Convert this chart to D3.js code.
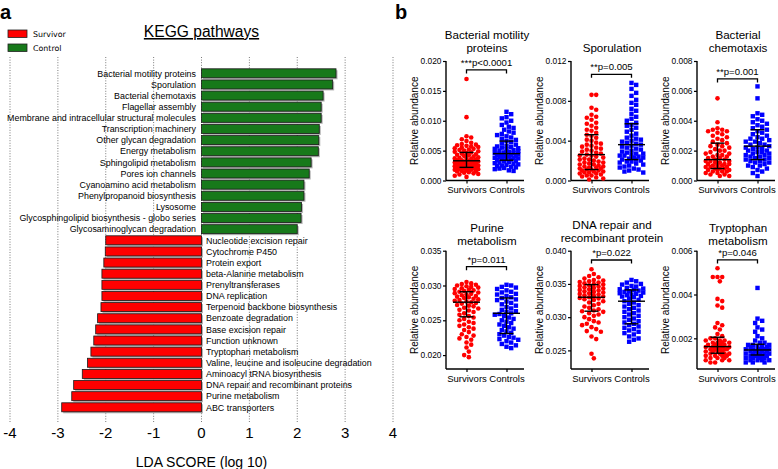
<!DOCTYPE html>
<html><head><meta charset="utf-8">
<script src="https://cdn.jsdelivr.net/npm/d3@7"></script>
<style>
body{margin:0;background:#fff;}
svg{display:block;}
text{font-family:"Liberation Sans",Arial,Helvetica,sans-serif;fill:#000;}
</style>
</head><body>
<svg id="c" width="778" height="469"></svg>
<script>
// ---------------- Panel a data ----------------
const keggNames = [
 "Bacterial motility proteins","Sporulation","Bacterial chemotaxis","Flagellar assembly",
 "Membrane and intracellular structural molecules","Transcription machinery","Other glycan degradation",
 "Energy metabolism","Sphingolipid metabolism","Pores ion channels","Cyanoamino acid metabolism",
 "Phenylpropanoid biosynthesis","Lysosome","Glycosphingolipid biosynthesis - globo series",
 "Glycosaminoglycan degradation",
 "Nucleotide excision repair","Cytochrome P450","Protein export","beta-Alanine metabolism",
 "Prenyltransferases","DNA replication","Terpenoid backbone biosynthesis","Benzoate degradation",
 "Base excision repair","Function unknown","Tryptophan metabolism",
 "Valine, leucine and isoleucine degradation","Aminoacyl tRNA biosynthesis",
 "DNA repair and recombinant proteins","Purine metabolism","ABC transporters"];
const keggScores = [2.81,2.74,2.54,2.50,2.50,2.46,2.45,2.44,2.29,2.25,2.14,2.14,2.09,2.08,2.00,
 -2.00,-2.01,-2.04,-2.08,-2.08,-2.08,-2.10,-2.17,-2.21,-2.25,-2.31,-2.38,-2.49,-2.67,-2.71,-2.92];
const ldaTicks = [-4,-3,-2,-1,0,1,2,3,4];
const legendLabels = ["Survivor","Control"];

// ---------------- Panel b data ----------------
const groupLabels = ["Survivors","Controls"];
const panelTitles = [["Bacterial motility","proteins"],["Sporulation"],["Bacterial","chemotaxis"],
 ["Purine","metabolism"],["DNA repair and","recombinant protein"],["Tryptophan","metabolism"]];
const pLabels = ["***p<0.0001","**p=0.005","**p=0.001","*p=0.011","*p=0.022","*p=0.046"];
const yDomains = [[0,0.020],[0,0.012],[0,0.008],[0.018,0.035],[0.0222,0.040],[0.0006,0.006]];
const yTickVals = [[0,0.005,0.010,0.015,0.020],[0,0.004,0.008,0.012],[0,0.002,0.004,0.006,0.008],
 [0.020,0.025,0.030,0.035],[0.025,0.030,0.035,0.040],[0.002,0.004,0.006]];
const bracketLevels = [0.0185,0.01066,0.0068,0.0327,0.0386,0.00558];
// [center, low, high] for survivors / controls
const survivorSummary = [[0.0033,0.0022,0.0047],[0.0026,0.0011,0.0046],[0.0014,0.0008,0.0025],
 [0.0276,0.0255,0.0291],[0.0330,0.0309,0.0349],[0.00162,0.00132,0.00205]];
const controlSummary = [[0.0045,0.0034,0.0066],[0.0036,0.0021,0.0057],[0.0023,0.0014,0.0034],
 [0.0260,0.0231,0.0282],[0.0324,0.0290,0.0341],[0.00147,0.00124,0.00173]];

const motilitySurvivors = [0.0170,0.0106,0.0074,0.0072,0.0069,0.0066,0.0063,0.0061,0.0060,0.0059,0.0058,0.0057,0.0056,0.0055,0.0054,0.0053,0.0052,0.0051,0.0050,0.0049,0.0048,0.0047,0.0046,0.0045,0.0044,0.0043,0.0042,0.0041,0.0040,0.0039,0.0038,0.0037,0.0036,0.0036,0.0035,0.0034,0.0034,0.0033,0.0032,0.0032,0.0031,0.0030,0.0030,0.0029,0.0028,0.0028,0.0027,0.0027,0.0026,0.0026,0.0025,0.0025,0.0024,0.0024,0.0023,0.0023,0.0022,0.0022,0.0021,0.0021,0.0020,0.0020,0.0019,0.0019,0.0018,0.0018,0.0017,0.0016,0.0016,0.0015,0.0014,0.0013,0.0012,0.0011,0.0010,0.0008,0.0006];
const motilityControls = [0.0115,0.0111,0.0106,0.0104,0.0100,0.0097,0.0093,0.0090,0.0088,0.0085,0.0082,0.0080,0.0078,0.0076,0.0074,0.0072,0.0070,0.0068,0.0066,0.0064,0.0062,0.0060,0.0058,0.0057,0.0056,0.0055,0.0054,0.0053,0.0052,0.0051,0.0050,0.0049,0.0048,0.0047,0.0046,0.0046,0.0045,0.0044,0.0044,0.0043,0.0042,0.0042,0.0041,0.0040,0.0040,0.0039,0.0038,0.0038,0.0037,0.0036,0.0036,0.0035,0.0034,0.0033,0.0032,0.0031,0.0030,0.0029,0.0028,0.0027,0.0026,0.0025,0.0024,0.0023,0.0022,0.0021,0.0020,0.0019,0.0017,0.0016];
const sporulationSurvivors = [0.0086,0.0086,0.0073,0.0071,0.0066,0.0064,0.0063,0.0061,0.0058,0.0057,0.0055,0.0053,0.0051,0.0050,0.0048,0.0046,0.0045,0.0043,0.0041,0.0040,0.0038,0.0037,0.0036,0.0035,0.0034,0.0033,0.0032,0.0031,0.0030,0.0029,0.0028,0.0027,0.0026,0.0025,0.0025,0.0024,0.0023,0.0022,0.0021,0.0021,0.0020,0.0019,0.0018,0.0018,0.0017,0.0016,0.0016,0.0015,0.0014,0.0014,0.0013,0.0013,0.0012,0.0012,0.0011,0.0011,0.0010,0.0010,0.0009,0.0009,0.0008,0.0008,0.0007,0.0007,0.0006,0.0005,0.0005,0.0004,0.0003,0.0002,0.0001];
const sporulationControls = [0.0098,0.0096,0.0092,0.0088,0.0085,0.0081,0.0078,0.0076,0.0072,0.0070,0.0067,0.0064,0.0062,0.0060,0.0058,0.0056,0.0055,0.0053,0.0051,0.0049,0.0047,0.0045,0.0043,0.0042,0.0041,0.0040,0.0039,0.0038,0.0037,0.0036,0.0035,0.0034,0.0033,0.0032,0.0031,0.0030,0.0029,0.0028,0.0027,0.0027,0.0026,0.0025,0.0025,0.0024,0.0023,0.0023,0.0022,0.0021,0.0021,0.0020,0.0019,0.0019,0.0018,0.0017,0.0016,0.0015,0.0014,0.0013,0.0012,0.0011,0.0010,0.0009,0.0008];
const chemotaxisSurvivors = [0.0055,0.0039,0.0035,0.0034,0.0034,0.0033,0.0033,0.0032,0.0031,0.0030,0.0029,0.0028,0.0027,0.0026,0.0025,0.0024,0.0023,0.0023,0.0022,0.0021,0.0020,0.0020,0.0019,0.0018,0.0018,0.0017,0.0017,0.0016,0.0016,0.0015,0.0015,0.0014,0.0014,0.0013,0.0013,0.0013,0.0012,0.0012,0.0011,0.0011,0.0011,0.0010,0.0010,0.0010,0.0009,0.0009,0.0009,0.0008,0.0008,0.0008,0.0007,0.0007,0.0007,0.0006,0.0006,0.0006,0.0005,0.0005,0.0004,0.0004,0.0003,0.0003];
const chemotaxisControls = [0.0063,0.0055,0.0045,0.0044,0.0043,0.0041,0.0040,0.0039,0.0038,0.0037,0.0036,0.0035,0.0034,0.0033,0.0032,0.0031,0.0030,0.0029,0.0028,0.0028,0.0027,0.0026,0.0026,0.0025,0.0024,0.0024,0.0023,0.0022,0.0022,0.0021,0.0021,0.0020,0.0020,0.0019,0.0019,0.0018,0.0018,0.0017,0.0017,0.0016,0.0016,0.0015,0.0015,0.0014,0.0014,0.0013,0.0013,0.0012,0.0012,0.0011,0.0010,0.0010,0.0009,0.0008,0.0007,0.0006,0.0005,0.0003];
const purineSurvivors = [0.0305,0.0303,0.0302,0.0301,0.0300,0.0299,0.0298,0.0297,0.0296,0.0295,0.0294,0.0293,0.0292,0.0291,0.0290,0.0289,0.0288,0.0287,0.0286,0.0285,0.0284,0.0283,0.0282,0.0281,0.0280,0.0279,0.0278,0.0277,0.0276,0.0275,0.0274,0.0272,0.0271,0.0270,0.0268,0.0267,0.0265,0.0264,0.0262,0.0260,0.0258,0.0256,0.0254,0.0252,0.0250,0.0248,0.0246,0.0244,0.0242,0.0240,0.0238,0.0236,0.0233,0.0230,0.0228,0.0226,0.0224,0.0222,0.0218,0.0215,0.0211,0.0205,0.0200,0.0197];
const purineControls = [0.0301,0.0300,0.0298,0.0297,0.0295,0.0293,0.0291,0.0290,0.0288,0.0287,0.0285,0.0283,0.0282,0.0280,0.0279,0.0277,0.0275,0.0273,0.0271,0.0269,0.0267,0.0265,0.0263,0.0262,0.0260,0.0259,0.0258,0.0256,0.0254,0.0252,0.0250,0.0248,0.0246,0.0244,0.0242,0.0240,0.0238,0.0236,0.0234,0.0232,0.0230,0.0228,0.0226,0.0225,0.0223,0.0222,0.0220,0.0218,0.0216,0.0214,0.0212,0.0210];
const dnaRepairSurvivors = [0.0372,0.0365,0.0362,0.0360,0.0358,0.0356,0.0355,0.0354,0.0353,0.0352,0.0351,0.0350,0.0349,0.0348,0.0347,0.0346,0.0345,0.0344,0.0343,0.0342,0.0341,0.0340,0.0339,0.0338,0.0337,0.0336,0.0335,0.0334,0.0333,0.0332,0.0331,0.0330,0.0329,0.0328,0.0327,0.0326,0.0324,0.0322,0.0320,0.0318,0.0316,0.0314,0.0312,0.0310,0.0309,0.0308,0.0306,0.0304,0.0302,0.0300,0.0297,0.0294,0.0292,0.0290,0.0288,0.0285,0.0282,0.0279,0.0278,0.0271,0.0267,0.0245,0.0238];
const dnaRepairControls = [0.0356,0.0354,0.0352,0.0350,0.0349,0.0347,0.0346,0.0344,0.0343,0.0342,0.0341,0.0340,0.0339,0.0338,0.0337,0.0336,0.0335,0.0334,0.0333,0.0332,0.0331,0.0330,0.0328,0.0326,0.0324,0.0322,0.0320,0.0318,0.0316,0.0314,0.0312,0.0310,0.0308,0.0306,0.0304,0.0302,0.0300,0.0298,0.0296,0.0294,0.0292,0.0290,0.0288,0.0286,0.0284,0.0282,0.0280,0.0278,0.0276,0.0274,0.0271,0.0268,0.0266,0.0263];
const tryptophanSurvivors = [0.0052,0.0048,0.0048,0.0048,0.0046,0.0038,0.0037,0.0035,0.0034,0.0027,0.0026,0.0025,0.0024,0.0022,0.0021,0.0020,0.0020,0.0019,0.0019,0.0019,0.0018,0.0018,0.0018,0.0018,0.0017,0.0017,0.0017,0.0017,0.0016,0.0016,0.0016,0.0016,0.0016,0.0015,0.0015,0.0015,0.0015,0.0015,0.0014,0.0014,0.0014,0.0014,0.0013,0.0013,0.0013,0.0013,0.0012,0.0012,0.0012,0.0012,0.0011,0.0011,0.0011,0.0010,0.0010,0.0010,0.0009,0.0009];
const tryptophanControls = [0.0043,0.0029,0.0028,0.0027,0.0025,0.0024,0.0023,0.0021,0.0020,0.0019,0.0018,0.0018,0.0017,0.0017,0.0017,0.0016,0.0016,0.0016,0.0016,0.0015,0.0015,0.0015,0.0015,0.0015,0.0014,0.0014,0.0014,0.0014,0.0014,0.0013,0.0013,0.0013,0.0013,0.0013,0.0012,0.0012,0.0012,0.0012,0.0012,0.0011,0.0011,0.0011,0.0011,0.0010,0.0010,0.0010,0.0010,0.0009,0.0009,0.0009];

const survivorSeries = [motilitySurvivors,sporulationSurvivors,chemotaxisSurvivors,purineSurvivors,dnaRepairSurvivors,tryptophanSurvivors];
const controlSeries = [motilityControls,sporulationControls,chemotaxisControls,purineControls,dnaRepairControls,tryptophanControls];

// ---------------- Drawing ----------------
const svg = d3.select("#c");
const RED = "#ff0000", GREEN = "#17791a", BLUE = "#0000ff";

// panel labels
svg.append("text").attr("x",0).attr("y",18.5).attr("font-size",20).attr("font-weight","bold").text("a");
svg.append("text").attr("x",395).attr("y",18.5).attr("font-size",20).attr("font-weight","bold").text("b");

// ---- Panel a ----
const ga = svg.append("g");
const x = d3.scaleLinear().domain([-4,4]).range([10,393]);
const y = d3.scalePoint().domain(keggNames).range([73.3,407.3]);
const barH = 9;

ga.selectAll("line.grid").data(ldaTicks).join("line")
  .attr("x1",d=>x(d)).attr("x2",d=>x(d)).attr("y1",57).attr("y2",422)
  .attr("stroke","#7a7a7a").attr("stroke-width",1).attr("stroke-dasharray","1,1.6");

const bars = keggNames.map((n,i)=>({name:n,score:keggScores[i]}));
ga.selectAll("rect.shadow").data(bars).join("rect")
  .attr("x",d=>Math.min(x(0),x(d.score))+1.5).attr("y",d=>y(d.name)-barH/2+1.5)
  .attr("width",d=>Math.abs(x(d.score)-x(0))).attr("height",barH).attr("fill","#b4b4b4");
ga.selectAll("rect.bar").data(bars).join("rect")
  .attr("x",d=>Math.min(x(0),x(d.score))).attr("y",d=>y(d.name)-barH/2)
  .attr("width",d=>Math.abs(x(d.score)-x(0))).attr("height",barH)
  .attr("fill",d=>d.score>0?GREEN:RED).attr("stroke","#1a1a1a").attr("stroke-width",0.8);
ga.selectAll("text.lab").data(bars).join("text")
  .attr("x",d=>d.score>0?x(0)-5.5:x(0)+4.5).attr("y",d=>y(d.name)+3.2)
  .attr("text-anchor",d=>d.score>0?"end":"start").attr("font-size",8.9).text(d=>d.name);

ga.selectAll("text.tick").data(ldaTicks).join("text")
  .attr("x",d=>x(d)).attr("y",437.5).attr("text-anchor","middle").attr("font-size",15)
  .text(d=>String(d));
ga.append("text").attr("x",201.5).attr("y",467).attr("text-anchor","middle").attr("font-size",14)
  .text("LDA SCORE (log 10)");
ga.append("text").attr("x",201.5).attr("y",37).attr("text-anchor","middle").attr("font-size",15.6)
  .attr("text-decoration","underline").text("KEGG pathways");

// legend
const legColors = [RED,GREEN];
legendLabels.forEach((l,i)=>{
  ga.append("rect").attr("x",8).attr("y",30+i*14).attr("width",19).attr("height",7.5)
    .attr("fill",legColors[i]).attr("stroke","#222").attr("stroke-width",0.8);
  ga.append("text").attr("x",33).attr("y",37+i*13.5).attr("font-size",7.9)
    .style("font-family","'DejaVu Sans',Verdana,sans-serif").text(l);
});

// ---- Panel b ----
const colLeft = [446,571,697];
const rowRange = [[180.5,61],[369,250.7]];
const titleY = [[35,48],[48],[35,48],[228,241],[225,238],[228,241]];
const axisW = 78;

function swarm(vals, ys, d, maxW){
  const order = vals.map((v,i)=>i).sort((a,b)=>vals[b]-vals[a]);
  const placed = [], out = new Array(vals.length);
  const stepsN = Math.floor(maxW/(d*0.5));
  for(const i of order){
    const py = ys(vals[i]);
    let best = 0, bestScore = -Infinity;
    outer:
    for(let k=0;k<=stepsN;k++){
      for(const s of (k===0?[1]:[1,-1])){
        const ox = s*k*d*0.5;
        let minD = Infinity;
        for(const p of placed){ const dd=Math.hypot(p[0]-ox,p[1]-py); if(dd<minD) minD=dd; }
        if(minD>=d){ best=ox; bestScore=Infinity; break outer; }
        if(minD>bestScore){ bestScore=minD; best=ox; }
      }
    }
    placed.push([best,py]); out[i]=best;
  }
  return out;
}

panelTitles.forEach((title,p)=>{
  const col = p%3, row = Math.floor(p/3);
  const L = colLeft[col];
  const [yb,yt] = rowRange[row];
  const g = svg.append("g");
  const ys = d3.scaleLinear().domain(yDomains[p]).range([yb,yt]);
  const xs = d3.scalePoint().domain(groupLabels).range([L+20.5,L+60.5]);

  // y axis
  const yAxis = d3.axisLeft(ys).tickValues(yTickVals[p]).tickFormat(d3.format(".3f")).tickSize(3).tickPadding(1.5).tickSizeOuter(0);
  const ya = g.append("g").attr("transform",`translate(${L},0)`).call(yAxis);
  ya.select(".domain").attr("stroke","#000").attr("stroke-width",1.4).attr("d",`M0,${yb}V${yt}`);
  ya.selectAll(".tick line").attr("stroke-width",1.2);
  ya.selectAll(".tick text").attr("font-size",8.4).style("font-family","'Liberation Sans',Arial,sans-serif");
  // x axis
  const xAxis = d3.axisBottom(xs).tickSize(3).tickPadding(3).tickSizeOuter(0);
  const xa = g.append("g").attr("transform",`translate(0,${yb})`).call(xAxis);
  xa.select(".domain").attr("stroke-width",1.4).attr("d",`M${L},0H${L+axisW}`);
  xa.selectAll(".tick line").attr("stroke-width",1.2);
  xa.selectAll(".tick text").attr("font-size",9.5).style("font-family","'Liberation Sans',Arial,sans-serif");

  // y label
  g.append("text").attr("transform",`translate(${L-28},${(yb+yt)/2}) rotate(-90)`)
    .attr("text-anchor","middle").attr("font-size",10).text("Relative abundance");
  // title
  title.forEach((t,j)=>{
    g.append("text").attr("x",L+41).attr("y",titleY[p][j]+4).attr("text-anchor","middle")
      .attr("font-size",11.6).text(t);
  });

  // points
  const sv = survivorSeries[p], cv = controlSeries[p];
  const sOff = swarm(sv, ys, 4.7, 14);
  const cOff = swarm(cv, ys, 4.7, 14);
  g.selectAll("circle.s").data(sv).join("circle")
    .attr("cx",(d,i)=>xs("Survivors")+sOff[i]).attr("cy",d=>ys(d)).attr("r",2.3).attr("fill",RED);
  g.selectAll("rect.c").data(cv).join("rect")
    .attr("x",(d,i)=>xs("Controls")+cOff[i]-2.2).attr("y",d=>ys(d)-2.2)
    .attr("width",4.4).attr("height",4.4).attr("fill",BLUE);

  // summary bars
  [[survivorSummary[p],"Survivors"],[controlSummary[p],"Controls"]].forEach(([sm,grp])=>{
    const cx = xs(grp);
    const eg = g.append("g").attr("stroke","#000").attr("stroke-width",1.4).attr("fill","none");
    eg.append("line").attr("x1",cx-13.5).attr("x2",cx+13.5).attr("y1",ys(sm[0])).attr("y2",ys(sm[0]));
    eg.append("line").attr("x1",cx).attr("x2",cx).attr("y1",ys(sm[1])).attr("y2",ys(sm[2]));
    eg.append("line").attr("x1",cx-7).attr("x2",cx+7).attr("y1",ys(sm[1])).attr("y2",ys(sm[1]));
    eg.append("line").attr("x1",cx-7).attr("x2",cx+7).attr("y1",ys(sm[2])).attr("y2",ys(sm[2]));
  });

  // significance bracket
  const by = ys(bracketLevels[p]);
  const x1 = xs("Survivors"), x2 = xs("Controls");
  g.append("path").attr("d",`M${x1},${by+3.5}V${by}H${x2}V${by+3.5}`)
    .attr("stroke","#000").attr("stroke-width",1.3).attr("fill","none");
  g.append("text").attr("x",(x1+x2)/2).attr("y",by-4).attr("text-anchor","middle")
    .attr("font-size",9.6).text(pLabels[p]);
});
</script>
</body></html>
